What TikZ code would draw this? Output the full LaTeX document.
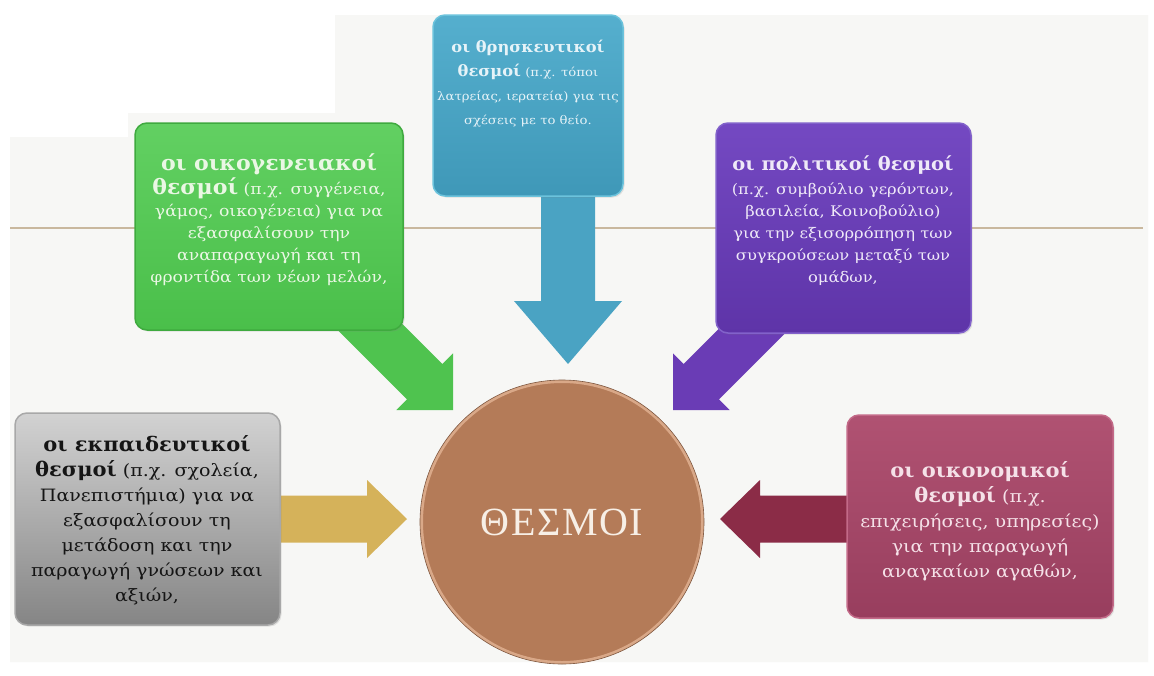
\documentclass[tikz,border=0pt]{standalone}
\usepackage{fontspec}
\usetikzlibrary{calc,shadows}
\newfontfamily\boxfont[FakeStretch=1.12]{DejaVu Serif}
\newfontfamily\ttlfont[FakeStretch=1.05]{DejaVu Serif}
\newfontfamily\centerfont[LetterSpace=4]{Liberation Serif}
\newcommand{\ttl}[2]{{\ttlfont\bfseries\fontsize{#1}{#1}\selectfont #2}}
\definecolor{bgc}{HTML}{F7F7F5}
\definecolor{linec}{HTML}{C9B89E}
\definecolor{grnT}{HTML}{62D062}
\definecolor{grnB}{HTML}{4ABF4A}
\definecolor{grnD}{HTML}{3FAA3F}
\definecolor{grnA}{HTML}{4FC34F}
\definecolor{grnX}{HTML}{EAF7E4}
\definecolor{bluT}{HTML}{55AFCE}
\definecolor{bluB}{HTML}{3F98B8}
\definecolor{bluD}{HTML}{6CC3DC}
\definecolor{bluA}{HTML}{4AA3C3}
\definecolor{bluX}{HTML}{E6F3F8}
\definecolor{purT}{HTML}{7449C2}
\definecolor{purB}{HTML}{5E34A8}
\definecolor{purD}{HTML}{8262CA}
\definecolor{purA}{HTML}{6A3CB5}
\definecolor{purX}{HTML}{EFE9F8}
\definecolor{gryT}{HTML}{D2D2D2}
\definecolor{gryB}{HTML}{858585}
\definecolor{gryD}{HTML}{A8A8A8}
\definecolor{gryX}{HTML}{151515}
\definecolor{marT}{HTML}{B05272}
\definecolor{marB}{HTML}{983E5E}
\definecolor{marD}{HTML}{C36A88}
\definecolor{marA}{HTML}{8B2C47}
\definecolor{marX}{HTML}{F5E1E8}
\definecolor{gldA}{HTML}{D5B25A}
\definecolor{circF}{HTML}{B47B58}
\definecolor{circD}{HTML}{D9A888}
\definecolor{circX}{HTML}{F7EFE6}
\tikzset{
  box/.style={rounded corners=12pt, line width=1.5pt, inner sep=0pt,
    drop shadow={opacity=0.2, shadow xshift=1.5pt, shadow yshift=-1.5pt}},
  boxtext/.style={align=center, inner sep=0pt},
}
% block arrow: #1 start, #2 tip, #3 half shaft, #4 half head, #5 head length, #6 colour
\newcommand{\blockarrow}[6]{%
  \coordinate (#2-base) at ($(#2)!#5!(#1)$);
  \fill[#6] ($(#1)!#3!90:(#2)$) -- ($(#2-base)!#3!90:(#2)$) -- ($(#2-base)!#4!90:(#2)$)
    -- (#2) -- ($(#2-base)!#4!-90:(#2)$) -- ($(#2-base)!#3!-90:(#2)$) -- ($(#1)!#3!-90:(#2)$) -- cycle;}
\begin{document}
\begin{tikzpicture}[x=1pt,y=-1pt]
\useasboundingbox (0,0) rectangle (1154,675);
\fill[white] (0,0) rectangle (1154,675);
\fill[bgc] (10,137) -- (128,137) -- (128,113) -- (335,113) -- (335,15) -- (1148,15)
  -- (1148,662) -- (10,662) -- cycle;
\coordinate (hl1) at (10,228);
\coordinate (hl2) at (1143,228);
\draw[linec, line width=2pt] (hl1) -- (hl2);

% arrows (behind boxes)
\coordinate (ga-s) at (343,300);  \coordinate (ga-t) at (453,410);
\coordinate (ba-s) at (568,180);  \coordinate (ba-t) at (568,364);
\coordinate (pa-s) at (783,300);  \coordinate (pa-t) at (673,410);
\coordinate (ya-s) at (268,519);  \coordinate (ya-t) at (407,519);
\coordinate (ma-s) at (862,519);  \coordinate (ma-t) at (720,519);
\blockarrow{ga-s}{ga-t}{25pt}{40pt}{40pt}{grnA}
\blockarrow{ba-s}{ba-t}{27pt}{54pt}{63pt}{bluA}
\blockarrow{pa-s}{pa-t}{25pt}{40pt}{40pt}{purA}
\blockarrow{ya-s}{ya-t}{23.5pt}{39pt}{40pt}{gldA}
\blockarrow{ma-s}{ma-t}{23.5pt}{39pt}{40pt}{marA}

% boxes
\node[box, minimum width=268pt, minimum height=207pt, top color=grnT, bottom color=grnB, draw=grnD] (green) at (269,226.5) {};
\node[box, minimum width=190pt, minimum height=181pt, top color=bluT, bottom color=bluB, draw=bluD] (blue) at (528,105.5) {};
\node[box, minimum width=255pt, minimum height=210pt, top color=purT, bottom color=purB, draw=purD] (purple) at (843.5,228) {};
\node[box, minimum width=265pt, minimum height=212pt, top color=gryT, bottom color=gryB, draw=gryD] (gray) at (147.5,519) {};
\node[box, minimum width=266pt, minimum height=203pt, top color=marT, bottom color=marB, draw=marD] (maroon) at (980,516.5) {};

% texts
\node[boxtext, text=grnX, font={\boxfont\fontsize{15.4}{22}\selectfont}] (greentext) at (269,220) {%
\ttl{21}{οι οικογενειακοί}\\[2pt]
\ttl{21}{θεσμοί} (π.χ. συγγένεια,\\
γάμος, οικογένεια) για να\\
εξασφαλίσουν την\\
αναπαραγωγή και τη\\
φροντίδα των νέων μελών,};

\node[boxtext, text=bluX, font={\boxfont\fontsize{11.8}{24}\selectfont}] (bluetext) at (528,84) {%
\ttl{15.5}{οι θρησκευτικοί}\\
\ttl{15.5}{θεσμοί} (π.χ. τόποι\\
λατρείας, ιερατεία) για τις\\
σχέσεις με το θείο.};

\node[boxtext, text=purX, font={\boxfont\fontsize{14.6}{22}\selectfont}] (purpletext) at (843,221) {%
\ttl{18.5}{οι πολιτικοί θεσμοί}\\[2pt]
(π.χ. συμβούλιο γερόντων,\\
βασιλεία, Κοινοβούλιο)\\
για την εξισορρόπηση των\\
συγκρούσεων μεταξύ των\\
ομάδων,};

\node[boxtext, text=gryX, font={\boxfont\fontsize{17}{25}\selectfont}] (graytext) at (147,520) {%
\ttl{20}{οι εκπαιδευτικοί}\\
\ttl{20}{θεσμοί} (π.χ. σχολεία,\\
Πανεπιστήμια) για να\\
εξασφαλίσουν τη\\
μετάδοση και την\\
παραγωγή γνώσεων και\\
αξιών,};

\node[boxtext, text=marX, font={\boxfont\fontsize{17}{25}\selectfont}] (maroontext) at (980,521) {%
\ttl{20}{οι οικονομικοί}\\
\ttl{20}{θεσμοί} (π.χ.\\
επιχειρήσεις, υπηρεσίες)\\
για την παραγωγή\\
αναγκαίων αγαθών,};

% centre
\node[circle, minimum size=281pt, fill=circF, draw=circD, line width=3pt, inner sep=0pt,
  text=circX, font={\centerfont\fontsize{40}{40}\selectfont}] (center) at (562,522) {ΘΕΣΜΟΙ};
\draw[circF!70!black, line width=0.6pt] (center.center) circle (142pt);
\end{tikzpicture}
\end{document}
